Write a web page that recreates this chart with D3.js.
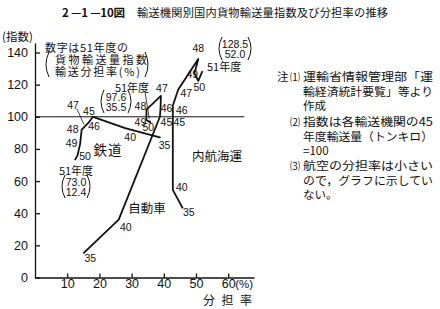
<!DOCTYPE html>
<html>
<head>
<meta charset="utf-8">
<script src="https://cdn.jsdelivr.net/npm/d3@7"></script>
<style>
  body { margin: 0; background: #fff; }
  svg { display: block; }
  text { fill: #111; }
</style>
</head>
<body>
<div id="chart"></div>
<script>
// values: share (%) on x, index (45年度 = 100) on y
const years = [35, 40, 45, 46, 47, 48, 49, 50, 51];
const railShare = [39.0, 28.0, 18.0, 16.5, 15.5, 14.5, 14.0, 13.2, 12.4];
const railIndex = [87, 93, 100, 96, 94, 92, 83, 76, 73.0];
const roadShare = [15.0, 26.0, 38.8, 39.0, 39.1, 34.6, 34.6, 35.8, 35.5];
const roadIndex = [15.0, 36.0, 100, 106, 113, 104.5, 98.0, 96.5, 97.6];
const seaShare = [45.9, 42.8, 42.8, 42.8, 44.5, 50.7, 49.5, 50.7, 52.0];
const seaIndex = [43.0, 54.5, 100, 107, 117, 136, 127, 122.3, 128.5];

const xTicks = [10, 20, 30, 40, 50, 60];
const yTicks = [0, 20, 40, 60, 80, 100, 120, 140];

// note lines: [mark, number, text, stretch to full width?]
const notes = [
  ["注", "⑴", "運輸省情報管理部「運", true],
  ["", "", "輸経済統計要覧」等より", true],
  ["", "", "作成", false],
  ["", "⑵", "指数は各輸送機関の45", true],
  ["", "", "年度輸送量（トンキロ）", true],
  ["", "", "=100", false],
  ["", "⑶", "航空の分担率は小さい", true],
  ["", "", "ので，グラフに示してい", true],
  ["", "", "ない。", false]
];

// constants
const width = 440, height = 309;
const jp = "'Noto Sans CJK JP', sans-serif";
const num = "'Liberation Sans', Arial, sans-serif";

const x = d3.scaleLinear().domain([0, 60]).range([35, 228.2]);
const y = d3.scaleLinear().domain([0, 140]).range([277.5, 52.5]);

const svg = d3.select("#chart")
  .append("svg")
  .attr("width", width)
  .attr("height", height);

// title
svg.append("text")
  .attr("x", 62).attr("y", 17)
  .attr("font-family", jp).attr("font-weight", "bold")
  .attr("font-size", 11.5)
  .attr("textLength", 63).attr("lengthAdjust", "spacing")
  .text("2 —1 —10図");
svg.append("text")
  .attr("x", 137).attr("y", 17)
  .attr("font-family", jp)
  .attr("font-size", 11.2)
  .attr("textLength", 251).attr("lengthAdjust", "spacing")
  .text("輸送機関別国内貨物輸送量指数及び分担率の推移");

// axes
const xAxisScale = x.copy().domain([0, 68]).range([x(0), x(68)]);
const yAxisScale = y.copy().domain([0, 146]).range([y(0), y(146)]);

const gx = svg.append("g")
  .attr("transform", `translate(0,${y(0)})`)
  .call(d3.axisBottom(xAxisScale).tickValues(xTicks)
    .tickSizeInner(-4).tickSizeOuter(0).tickPadding(2));

const gy = svg.append("g")
  .attr("transform", `translate(${x(0)},0)`)
  .call(d3.axisLeft(yAxisScale).tickValues(yTicks)
    .tickSizeInner(-5).tickSizeOuter(0).tickPadding(7));

[gx, gy].forEach(g => {
  g.selectAll("path, line").attr("stroke", "#111").attr("stroke-width", 1.3);
  g.selectAll("text").attr("font-family", num).attr("font-size", 12.5).attr("fill", "#111");
});

svg.append("text")
  .attr("x", x(60) + 7).attr("y", y(0) + 2)
  .attr("dy", "0.71em")
  .attr("font-family", num).attr("font-size", 11.5)
  .text("(%)");

svg.append("text")
  .attr("x", 203).attr("y", 305)
  .attr("font-family", jp).attr("font-size", 12)
  .attr("textLength", 49).attr("lengthAdjust", "spacing")
  .text("分担率");

svg.append("text")
  .attr("x", 2).attr("y", 41)
  .attr("font-family", jp).attr("font-size", 11.5)
  .text("(指数)");

// 100 reference line
svg.append("line")
  .attr("x1", x(0)).attr("x2", x(65))
  .attr("y1", y(100)).attr("y2", y(100))
  .attr("stroke", "#111").attr("stroke-width", 1);

// series
const series = [
  {name: "rail", share: railShare, index: railIndex,
   off: [[4, 7], [5, 9], [-4, -6], [6, 3], null, [-9, -1], [-8.5, -1], [7.5, 1], null]},
  {name: "road", share: roadShare, index: roadIndex,
   off: [[7, 5], [7, 7], [6.5, 5], [6, 1], [1, -8], [-6, -4], [-6, 2], [-2, 5], null]},
  {name: "sea", share: seaShare, index: seaIndex,
   off: [[6, 4], [9, -3], [6.5, 5], [9, 4], [8, 4], [0, -11], [-2, 1], [1, 6], null]}
];

const line = d3.line()
  .x(d => x(d.s))
  .y(d => y(d.i));

series.forEach(sr => {
  const pts = years.map((yr, k) => ({yr: yr, s: sr.share[k], i: sr.index[k], off: sr.off[k]}));
  svg.append("path")
    .datum(pts)
    .attr("d", line)
    .attr("fill", "none")
    .attr("stroke", "#111")
    .attr("stroke-width", 1.8)
    .attr("stroke-linejoin", "round");

  svg.selectAll(".lab-" + sr.name)
    .data(pts.filter(d => d.off))
    .enter().append("text")
      .attr("class", "lab-" + sr.name)
      .attr("x", d => x(d.s) + d.off[0])
      .attr("y", d => y(d.i) + d.off[1])
      .attr("text-anchor", "middle")
      .attr("dominant-baseline", "central")
      .attr("font-family", num)
      .attr("font-size", 10.5)
      .text(d => d.yr);
});

// rail 47 sits on a leader
svg.append("text")
  .attr("x", 73).attr("y", 104.5)
  .attr("text-anchor", "middle").attr("dominant-baseline", "central")
  .attr("font-family", num).attr("font-size", 10.5)
  .text(years[4]);
svg.append("line")
  .attr("x1", 77).attr("y1", 109)
  .attr("x2", x(railShare[4]) - 1).attr("y2", y(railIndex[4]) - 2)
  .attr("stroke", "#111").attr("stroke-width", 0.8);

// brackets round two-line notes
function paren(cx, y1, y2, dir) {
  const p = d3.path();
  p.moveTo(cx + 3 * dir, y1);
  p.quadraticCurveTo(cx - 3 * dir, (y1 + y2) / 2, cx + 3 * dir, y2);
  svg.append("path").attr("d", p.toString())
    .attr("fill", "none").attr("stroke", "#111").attr("stroke-width", 1);
}

function endNote(tx, ty, a, b, l, r, top, bottom) {
  svg.append("text").attr("x", tx).attr("y", ty)
    .attr("text-anchor", "middle").attr("dominant-baseline", "central")
    .attr("font-family", num).attr("font-size", 10.5).text(a);
  svg.append("text").attr("x", tx).attr("y", ty + 10.5)
    .attr("text-anchor", "middle").attr("dominant-baseline", "central")
    .attr("font-family", num).attr("font-size", 10.5).text(b);
  paren(l, top, bottom, 1);
  paren(r, top, bottom, -1);
}

function yearTag(tx, ty, anchor) {
  svg.append("text").attr("x", tx).attr("y", ty)
    .attr("text-anchor", anchor).attr("dominant-baseline", "central")
    .attr("font-family", jp).attr("font-size", 11)
    .text(years[8] + "年度");
}

// rail 51
yearTag(76, 170, "middle");
endNote(76, 181.5, railIndex[8].toFixed(1), railShare[8].toFixed(1), 62, 90, 175, 198);

// road 51
yearTag(132, 87, "middle");
endNote(116, 96.5, roadIndex[8].toFixed(1), roadShare[8].toFixed(1), 101, 131, 90, 113);
svg.append("line")
  .attr("x1", 145).attr("y1", 92)
  .attr("x2", x(roadShare[8])).attr("y2", y(roadIndex[8]) - 2)
  .attr("stroke", "#111").attr("stroke-width", 0.8);

// sea 51
yearTag(207, 66, "start");
endNote(235, 43.5, seaIndex[8].toFixed(1), seaShare[8].toFixed(1), 219, 251, 37, 60);

// legend note
const legend = [
  ["数字は51年度の", 45, 46.5, 83],
  ["貨物輸送量指数", 55, 58.5, 92],
  ["輸送分担率(%)", 55, 70.5, 85]
];
legend.forEach(l => {
  svg.append("text").attr("x", l[1]).attr("y", l[2])
    .attr("dominant-baseline", "central")
    .attr("font-family", jp).attr("font-size", 11)
    .attr("textLength", l[3]).attr("lengthAdjust", "spacing")
    .text(l[0]);
});
paren(46, 52, 77, 1);
paren(148, 52, 77, -1);

// series names
svg.append("text").attr("x", 108).attr("y", 149)
  .attr("text-anchor", "middle").attr("dominant-baseline", "central")
  .attr("font-family", jp).attr("font-size", 13.5).attr("letter-spacing", 1)
  .text("鉄道");
svg.append("text").attr("x", 147).attr("y", 207)
  .attr("text-anchor", "middle").attr("dominant-baseline", "central")
  .attr("font-family", jp).attr("font-size", 12.5)
  .text("自動車");
svg.append("text").attr("x", 217).attr("y", 155)
  .attr("text-anchor", "middle").attr("dominant-baseline", "central")
  .attr("font-family", jp).attr("font-size", 12.5)
  .text("内航海運");

// notes on the right
const lineY = [76, 90.5, 105, 121, 135.5, 150, 165, 179.5, 194];
const gn = svg.append("g")
  .attr("font-family", jp).attr("font-size", 11.5);
notes.forEach((n, k) => {
  gn.append("text").attr("x", 277).attr("y", lineY[k])
    .attr("dominant-baseline", "central").text(n[0]);
  gn.append("text").attr("x", 290).attr("y", lineY[k])
    .attr("dominant-baseline", "central").attr("font-size", 10).text(n[1]);
  const t = gn.append("text").attr("x", 303).attr("y", lineY[k])
    .attr("dominant-baseline", "central").text(n[2]);
  if (n[3]) t.attr("textLength", 130).attr("lengthAdjust", "spacingAndGlyphs");
});
</script>
</body>
</html>
